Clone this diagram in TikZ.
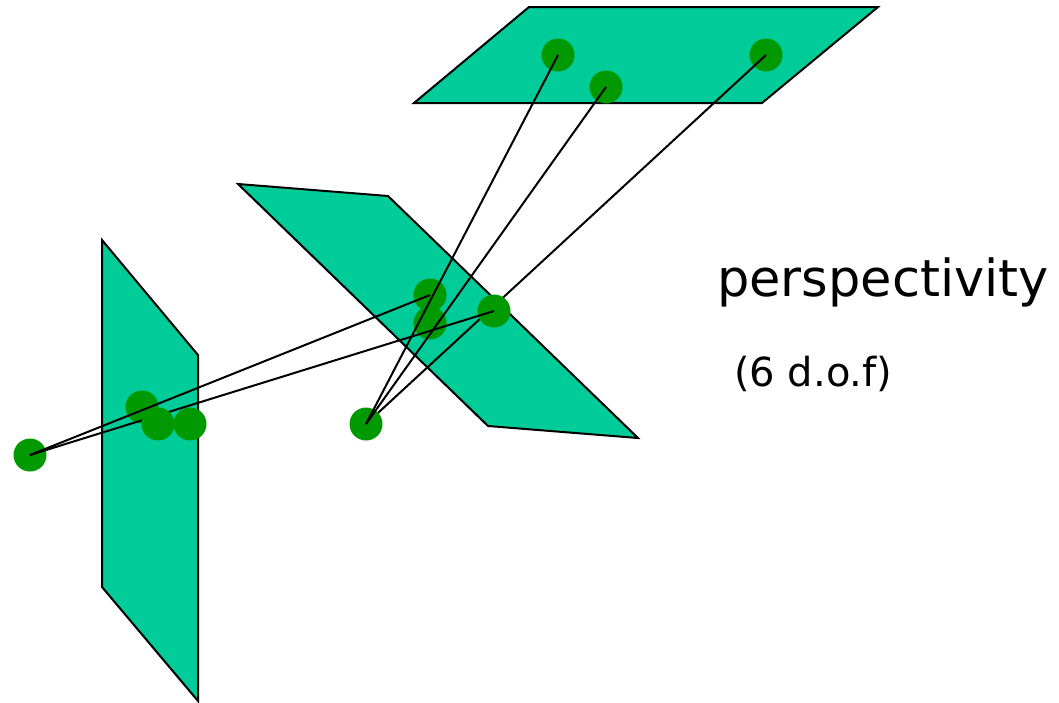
\documentclass[tikz,border=0pt]{standalone}
\usepackage{fontspec}
\setmainfont{DejaVu Sans}
\definecolor{planegreen}{HTML}{00CC99}
\definecolor{dotgreen}{HTML}{009900}
\pgfdeclarelayer{planes}
\pgfdeclarelayer{rays}
\pgfdeclarelayer{front}
\pgfsetlayers{planes,rays,main,front}
\tikzset{
  plane/.style={draw=black, fill=planegreen, line width=2pt, line join=miter},
  pt/.style={circle, fill=dotgreen, inner sep=0pt, minimum size=33pt},
  ray/.style={black, line width=2pt},
}
\begin{document}
\begin{tikzpicture}[x=1pt, y=-1pt]
  \useasboundingbox (0,0) rectangle (1059,702);

  % Planes, with the points of the top plane
  \begin{pgfonlayer}{planes}
    \draw[plane] (529,7) -- (878,7) -- (762,103) -- (414,103) -- cycle;
    \draw[plane] (238,184) -- (388,196) -- (638,438) -- (488,426) -- cycle;
    \draw[plane] (102,240) -- (198,355) -- (198,701) -- (102,587) -- cycle;
    \node[pt] (top1) at (558,55) {};
    \node[pt] (top2) at (606,87) {};
    \node[pt] (top3) at (766,55) {};
  \end{pgfonlayer}

  % Points
  \node[pt] (mid1) at (430,295) {};
  \node[pt] (mid2) at (430,323) {};
  \node[pt] (mid3) at (494,311) {};
  \node[pt] (left1) at (142,407) {};
  \node[pt] (left3) at (190,424) {};
  \node[pt] (eyeA) at (30,455) {};
  \node[pt] (eyeB) at (366,424) {};

  % Ray hidden by the point on the middle plane
  \begin{pgfonlayer}{rays}
    \draw[ray] (eyeB.center) -- (top3.center);
  \end{pgfonlayer}

  % Rays over the points
  \begin{pgfonlayer}{front}
    \draw[ray] (eyeB.center) -- (top1.center);
    \draw[ray] (eyeB.center) -- (top2.center);
    \draw[ray] (eyeA.center) -- (mid1.center);
    \draw[ray] (eyeA.center) -- (mid3.center);
    \node[pt] (left2) at (158,424) {};
  \end{pgfonlayer}

  % Labels
  \node[font=\fontsize{51}{55}\selectfont, anchor=base west, inner sep=0pt] (title) at (717,296) {perspectivity};
  \node[font=\fontsize{40}{44}\selectfont, anchor=base west, inner sep=0pt] (dof) at (734,386) {(6 d.o.f)};
\end{tikzpicture}
\end{document}
